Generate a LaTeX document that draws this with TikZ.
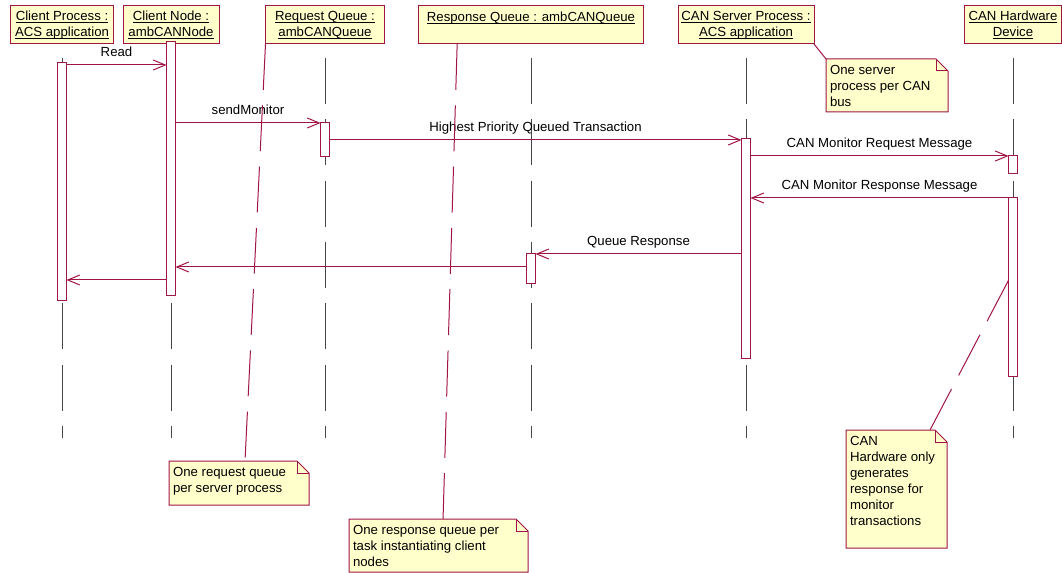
\documentclass[tikz,border=0pt]{standalone}
\usepackage{fontspec}
\setmainfont{Liberation Sans}
\usetikzlibrary{arrows.meta,backgrounds}
\definecolor{roseline}{RGB}{160,20,70}
\definecolor{rosefill}{RGB}{255,255,204}
\definecolor{lifegray}{RGB}{70,70,70}
\newsavebox{\ulbox}
\newcommand{\ulin}[1]{\sbox{\ulbox}{#1}\rlap{\rule[-1.6pt]{\wd\ulbox}{0.6pt}}\usebox{\ulbox}}
\newcommand{\notetext}[3]{\parbox[c][#2][t]{#1}{#3}}

\begin{document}
\begin{tikzpicture}[x=0.75pt,y=-0.75pt,
  font=\fontsize{9.9}{12}\selectfont,
  every node/.style={outer sep=0pt},
  object/.style={rectangle, draw=roseline, fill=rosefill, line width=0.75pt, align=center, minimum height=28.5pt, inner sep=0pt},
  bar/.style={rectangle, draw=roseline, fill=white, line width=0.75pt, inner sep=0pt, minimum width=6.75pt, anchor=north},
  lifeline/.style={draw=lifegray, line width=0.75pt, dash pattern=on 34.5pt off 11.5pt},
  msg/.style={draw=roseline, line width=0.75pt, -{Straight Barb[length=9pt,width=7.5pt]}},
  msglabel/.style={midway, above=4.5pt, inner sep=0pt, text height=7.5pt, text depth=2pt},
  note/.style={anchor=north west, inner xsep=3pt, inner ysep=4.5pt},
  notebody/.style={draw=roseline, fill=rosefill, line width=0.75pt},
  noteline/.style={draw=roseline, line width=0.75pt, dash pattern=on 34.5pt off 11.5pt}]
  \useasboundingbox (0,0) rectangle (1062,573);

  % Objects across the top
  \node (cp) [object, minimum width=77.25pt] at (62,25) {\ulin{Client Process :}\\\ulin{ACS application}};
  \node (cn) [object, minimum width=72pt] at (171,25) {\ulin{Client Node :}\\\ulin{ambCANNode}};
  \node (rq) [object, minimum width=89.25pt] at (325,25) {\ulin{Request Queue :}\\\ulin{ambCANQueue}};
  \node (rsq) [object, minimum width=168.75pt] at (531,25) {\ulin{Response Queue : ambCANQueue}\\\mbox{}};
  \node (cs) [object, minimum width=102pt] at (746,25) {\ulin{CAN Server Process :}\\\ulin{ACS application}};
  \node (hw) [object, minimum width=72.75pt] at (1013,25) {\ulin{CAN Hardware}\\\ulin{Device}};

  % Lifelines
  \foreach \obj in {cp,cn,rq,rsq,cs,hw}
    \draw[lifeline] ([yshift=-10.5pt]\obj.south) -- (\obj.south |- 0,438);

  % Activation bars
  \node (cpbar) [bar, minimum height=177.75pt] at (cp.south |- 0,63) {};
  \node (cnbar) [bar, minimum height=189.75pt] at (cn.south |- 0,42) {};
  \node (rqbar) [bar, minimum height=25.5pt] at (rq.south |- 0,123) {};
  \node (rsqbar) [bar, minimum height=22.5pt] at (rsq.south |- 0,254) {};
  \node (csbar) [bar, minimum height=164.25pt] at (cs.south |- 0,139) {};
  \node (hwbar1) [bar, minimum height=13.5pt] at (hw.south |- 0,156) {};
  \node (hwbar2) [bar, minimum height=133.5pt] at (hw.south |- 0,198) {};

  % Messages
  \draw[msg] (cpbar.east |- 0,65) -- node[msglabel] {Read} (cnbar.west |- 0,65);
  \draw[msg] (cnbar.east |- 0,123) -- node[msglabel] {sendMonitor} (rqbar.west |- 0,123);
  \draw[msg] (rqbar.east |- 0,140) -- node[msglabel] {Highest Priority Queued Transaction} (csbar.west |- 0,140);
  \draw[msg] (csbar.east |- 0,156) -- node[msglabel] {CAN Monitor Request Message} (hwbar1.west |- 0,156);
  \draw[msg] (hwbar2.west |- 0,198) -- node[msglabel] {CAN Monitor Response Message} (csbar.east |- 0,198);
  \draw[msg] (csbar.west |- 0,254) -- node[msglabel] {Queue Response} (rsqbar.east |- 0,254);
  \draw[msg] (rsqbar.west |- 0,267) -- (cnbar.east |- 0,267);
  \draw[msg] (cnbar.west |- 0,280) -- (cpbar.east |- 0,280);

  % Notes
  \node (srvnote) [note] at (826,59) {\notetext{85.5pt}{30.75pt}{One server\\process per CAN\\bus}};
  \node (rqnote) [note] at (169,461) {\notetext{99pt}{24pt}{One request queue\\per server process}};
  \node (rsqnote) [note] at (349,519) {\notetext{128.25pt}{30.75pt}{One response queue per\\task instantiating client\\nodes}};
  \node (hwnote) [note] at (846,430) {\notetext{69.75pt}{79.5pt}{CAN\\Hardware only\\generates\\response for\\monitor\\transactions}};
  \begin{scope}[on background layer]
    \foreach \n in {srvnote,rqnote,rsqnote,hwnote} {
      \filldraw[notebody] (\n.south west) -- (\n.north west) -- ([xshift=-9pt]\n.north east) -- ([yshift=-9pt]\n.north east) -- (\n.south east) -- cycle;
      \draw[notebody, fill=none] ([xshift=-9pt]\n.north east) |- ([yshift=-9pt]\n.north east);
    }
  \end{scope}

  % Note attachments
  \draw[noteline] (cs.south east) -- (srvnote.north west);
  \draw[noteline] (rq.south west) -- ([xshift=4.5pt]rqnote.north);
  \draw[noteline] ([xshift=29pt]rsq.south west) -- ([xshift=3.4pt]rsqnote.north);
  \draw[noteline] ([yshift=5pt]hwbar2.west) -- ([xshift=-12.75pt]hwnote.north east);
\end{tikzpicture}
\end{document}
